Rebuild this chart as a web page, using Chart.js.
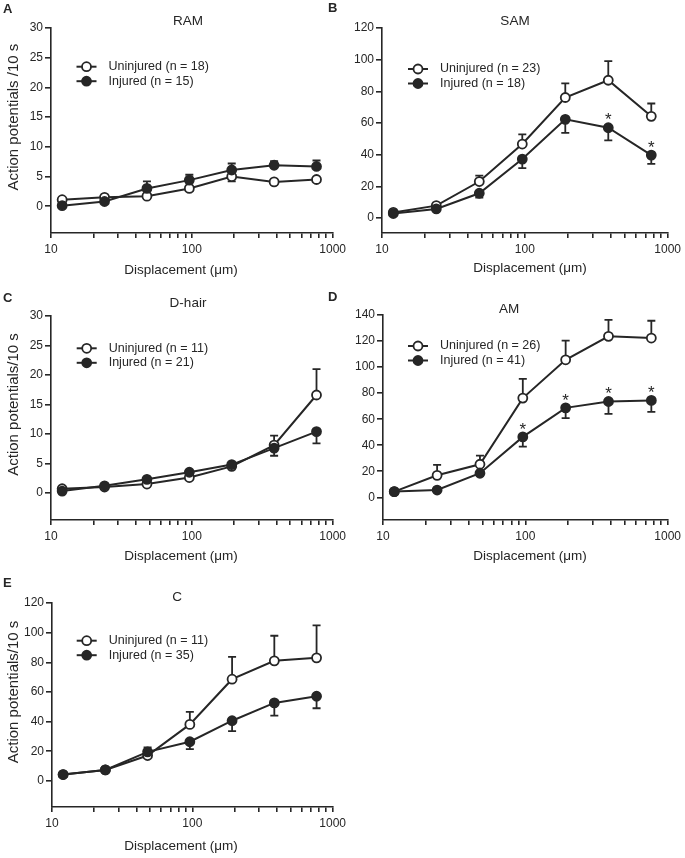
<!DOCTYPE html>
<html>
<head>
<meta charset="utf-8">
<title>Action potentials vs displacement</title>
<script src="https://cdn.jsdelivr.net/npm/chart.js@4.4.1/dist/chart.umd.min.js"></script>
<style>
  html, body { margin: 0; padding: 0; background: #fff; }
  body { position: relative; width: 685px; height: 858px; overflow: hidden; }
  .panel { position: absolute; }
</style>
</head>
<body>
<div class="panel" style="left:0px;top:0px"><canvas id="panelA" width="350" height="288"></canvas></div>
<div class="panel" style="left:322px;top:0px"><canvas id="panelB" width="363" height="288"></canvas></div>
<div class="panel" style="left:0px;top:288px"><canvas id="panelC" width="350" height="288"></canvas></div>
<div class="panel" style="left:322px;top:288px"><canvas id="panelD" width="363" height="288"></canvas></div>
<div class="panel" style="left:0px;top:575px"><canvas id="panelE" width="350" height="283"></canvas></div>
<script>
// Dados (média, erro padrão num só sentido)
const displacement = [12, 24, 48, 96, 192, 384, 768];
const xLabelsShown = [10, 100, 1000];
const groupNames = ['Uninjured', 'Injured'];

// RAM
const ramN = [18, 15];
const ramUninjured = [1.1, 1.5, 1.7, 3.0, 5.0, 4.1, 4.5];
const ramUninjuredErr = [0.2, 0.2, 0.3, 0.4, 0.8, 0.4, 0.4];
const ramInjured = [0.1, 0.8, 3.0, 4.4, 6.1, 6.9, 6.7];
const ramInjuredErr = [0.2, 0.3, 1.2, 0.9, 1.1, 0.7, 1.0];

// SAM
const samN = [23, 18];
const samUninjured = [3.5, 7.8, 23.0, 46.7, 76.1, 87.0, 64.2];
const samUninjuredErr = [0.5, 0.8, 3.8, 6.1, 8.9, 12.1, 8.1];
const samInjured = [2.8, 5.7, 15.6, 37.2, 62.3, 57.0, 39.7];
const samInjuredErr = [0.5, 0.8, 2.8, 5.7, 8.6, 8.0, 5.5];
const samStars = [5, 6];

// D-hair
const dhairN = [11, 21];
const dhairUninjured = [0.7, 1.0, 1.5, 2.6, 4.5, 8.1, 16.6];
const dhairUninjuredErr = [0.1, 0.2, 0.3, 0.4, 0.5, 1.6, 4.4];
const dhairInjured = [0.3, 1.2, 2.3, 3.5, 4.8, 7.6, 10.4];
const dhairInjuredErr = [0.1, 0.2, 0.3, 0.3, 0.4, 1.3, 2.0];

// AM
const amN = [26, 41];
const amUninjured = [4.4, 16.9, 25.4, 76.2, 105.6, 123.6, 122.3];
const amUninjuredErr = [1.0, 8.0, 6.6, 14.8, 14.7, 12.6, 13.3];
const amInjured = [4.4, 5.6, 18.5, 46.4, 68.7, 73.6, 74.4];
const amInjuredErr = [0.8, 1.0, 2.0, 7.4, 7.9, 9.5, 8.8];
const amStars = [3, 4, 5, 6];

// C
const cN = [11, 35];
const cUninjured = [4.3, 7.4, 17.1, 38.1, 68.6, 81.0, 83.0];
const cUninjuredErr = [0.5, 0.8, 5.5, 8.4, 15.1, 16.9, 21.9];
const cInjured = [4.3, 7.4, 19.6, 26.4, 40.6, 52.6, 57.1];
const cInjuredErr = [0.5, 0.8, 1.5, 5.0, 7.0, 8.6, 8.1];

const ink = '#262626';
const fontFamily = '"Liberation Sans", Arial, Helvetica, sans-serif';
Chart.defaults.font.family = fontFamily;
Chart.defaults.color = ink;

// Posições em coordenadas da página
const panels = [
  { id: 'panelA', letter: 'A', title: 'RAM', yTitle: 'Action potentials /10 s', n: ramN,
    left: 0, top: 0, plot: [51, 28, 334, 233], yMin: -4.5, yMax: 30, yStep: 5,
    uninjured: ramUninjured, uninjuredErr: ramUninjuredErr, uninjuredDir: -1,
    injured: ramInjured, injuredErr: ramInjuredErr, injuredDir: 1, stars: [],
    titleAt: [188, 21.7], letterAt: [3, 9], legendAt: [76.5, 66.7], xTitleAt: [181, 270], yTitleX: 13.5 },
  { id: 'panelB', letter: 'B', title: 'SAM', yTitle: '', n: samN,
    left: 322, top: 0, plot: [382, 28, 668, 233], yMin: -9.5, yMax: 120, yStep: 20,
    uninjured: samUninjured, uninjuredErr: samUninjuredErr, uninjuredDir: 1,
    injured: samInjured, injuredErr: samInjuredErr, injuredDir: -1, stars: samStars,
    titleAt: [515, 21.7], letterAt: [328, 8], legendAt: [408, 69], xTitleAt: [530, 268.5], yTitleX: 0 },
  { id: 'panelC', letter: 'C', title: 'D-hair', yTitle: 'Action potentials/10 s', n: dhairN,
    left: 0, top: 288, plot: [51, 316, 334, 520], yMin: -4.6, yMax: 30, yStep: 5,
    uninjured: dhairUninjured, uninjuredErr: dhairUninjuredErr, uninjuredDir: 1,
    injured: dhairInjured, injuredErr: dhairInjuredErr, injuredDir: -1, stars: [],
    titleAt: [188, 303.3], letterAt: [3, 298], legendAt: [76.7, 348.3], xTitleAt: [181, 556.7], yTitleX: 14 },
  { id: 'panelD', letter: 'D', title: 'AM', yTitle: '', n: amN,
    left: 322, top: 288, plot: [383, 315, 670, 520], yMin: -17.4, yMax: 140, yStep: 20,
    uninjured: amUninjured, uninjuredErr: amUninjuredErr, uninjuredDir: 1,
    injured: amInjured, injuredErr: amInjuredErr, injuredDir: -1, stars: amStars,
    titleAt: [509, 309.3], letterAt: [328, 297], legendAt: [408, 346], xTitleAt: [530, 556.7], yTitleX: 0 },
  { id: 'panelE', letter: 'E', title: 'C', yTitle: 'Action potentials/10 s', n: cN,
    left: 0, top: 575, plot: [52, 603, 334, 807], yMin: -17.6, yMax: 120, yStep: 20,
    uninjured: cUninjured, uninjuredErr: cUninjuredErr, uninjuredDir: 1,
    injured: cInjured, injuredErr: cInjuredErr, injuredDir: -1, stars: [],
    titleAt: [177, 597.7], letterAt: [3, 583], legendAt: [76.7, 640.7], xTitleAt: [181, 846.7], yTitleX: 14 }
];

function pontos(values) {
  return displacement.map((d, i) => ({ x: d, y: values[i] }));
}

function decoracao(p) {
  return {
    id: 'decoracao' + p.letter,
    // barras de erro por baixo das linhas
    beforeDatasetsDraw(chart) {
      const { ctx, scales: { x, y } } = chart;
      ctx.save();
      ctx.strokeStyle = ink;
      ctx.lineWidth = 1.8;
      chart.data.datasets.forEach(ds => {
        ds.err.forEach((e, i) => {
          if (!e) return;
          const px = x.getPixelForValue(displacement[i]);
          const p0 = y.getPixelForValue(ds.data[i].y);
          const p1 = y.getPixelForValue(ds.data[i].y + ds.errDir * e);
          ctx.beginPath();
          ctx.moveTo(px, p0);
          ctx.lineTo(px, p1);
          ctx.moveTo(px - 4, p1);
          ctx.lineTo(px + 4, p1);
          ctx.stroke();
        });
      });
      ctx.restore();
    },
    afterDraw(chart) {
      const { ctx, scales: { x, y } } = chart;
      const ox = p.left, oy = p.top;
      ctx.save();
      ctx.fillStyle = ink;
      ctx.textBaseline = 'middle';

      // letra do painel
      ctx.font = 'bold 13px ' + fontFamily;
      ctx.textAlign = 'left';
      ctx.fillText(p.letter, p.letterAt[0] - ox, p.letterAt[1] - oy);

      // título do painel
      ctx.font = '13.5px ' + fontFamily;
      ctx.textAlign = 'center';
      ctx.fillText(p.title, p.titleAt[0] - ox, p.titleAt[1] - oy);

      // título do eixo x
      ctx.fillText('Displacement (\u03bcm)', p.xTitleAt[0] - ox, p.xTitleAt[1] - oy);

      // título do eixo y, centrado entre 0 e o máximo
      if (p.yTitle) {
        const cy = (y.getPixelForValue(0) + y.getPixelForValue(p.yMax)) / 2;
        ctx.save();
        ctx.translate(p.yTitleX - ox, cy);
        ctx.rotate(-Math.PI / 2);
        ctx.font = '15px ' + fontFamily;
        ctx.fillText(p.yTitle, 0, 0);
        ctx.restore();
      }

      // asteriscos de significância
      ctx.font = '17px ' + fontFamily;
      p.stars.forEach(i => {
        const px = x.getPixelForValue(displacement[i]);
        const py = y.getPixelForValue(p.injured[i]);
        ctx.fillText('*', px, py - 7);
      });

      // legenda
      ctx.font = '12.5px ' + fontFamily;
      ctx.textAlign = 'left';
      groupNames.forEach((name, k) => {
        const lx = p.legendAt[0] - ox;
        const ly = p.legendAt[1] + k * 14.5 - oy;
        ctx.strokeStyle = ink;
        ctx.lineWidth = 2;
        ctx.beginPath();
        ctx.moveTo(lx, ly);
        ctx.lineTo(lx + 20, ly);
        ctx.stroke();
        ctx.beginPath();
        ctx.arc(lx + 10, ly, 4.5, 0, Math.PI * 2);
        ctx.fillStyle = k === 0 ? '#fff' : ink;
        ctx.fill();
        ctx.lineWidth = 1.8;
        ctx.stroke();
        ctx.fillStyle = ink;
        ctx.fillText(name + ' (n = ' + p.n[k] + ')', lx + 32, ly);
      });
      ctx.restore();
    }
  };
}

panels.forEach(p => {
  const canvas = document.getElementById(p.id);
  const W = canvas.width, H = canvas.height;
  const plotLeft = p.plot[0] - p.left, plotTop = p.plot[1] - p.top;
  const plotRight = p.plot[2] - p.left, plotBottom = p.plot[3] - p.top;

  new Chart(canvas.getContext('2d'), {
    type: 'line',
    data: {
      datasets: [
        {
          label: groupNames[0],
          data: pontos(p.uninjured),
          err: p.uninjuredErr,
          errDir: p.uninjuredDir,
          order: 1,
          borderColor: ink,
          borderWidth: 2,
          pointRadius: 4.5,
          pointBorderWidth: 1.8,
          pointBackgroundColor: '#fff',
          pointBorderColor: ink,
          tension: 0
        },
        {
          label: groupNames[1],
          data: pontos(p.injured),
          err: p.injuredErr,
          errDir: p.injuredDir,
          order: 0,
          borderColor: ink,
          borderWidth: 2,
          pointRadius: 4.5,
          pointBorderWidth: 1.8,
          pointBackgroundColor: ink,
          pointBorderColor: ink,
          tension: 0
        }
      ]
    },
    options: {
      responsive: false,
      animation: false,
      events: [],
      layout: { padding: { left: 0, top: plotTop, right: W - plotRight, bottom: 0 } },
      plugins: { legend: { display: false }, tooltip: { enabled: false }, title: { display: false } },
      scales: {
        x: {
          type: 'logarithmic',
          min: 10,
          max: 1000,
          afterFit: s => { s.height = H - plotBottom; },
          afterBuildTicks: s => {
            // só 1..9 x 10^n
            s.ticks = s.ticks.filter(t => {
              const m = t.value / Math.pow(10, Math.floor(Math.log10(t.value) + 1e-9));
              return Math.abs(m - Math.round(m)) < 1e-6;
            });
          },
          border: { display: true, color: ink, width: 1.6 },
          grid: { drawOnChartArea: false, drawTicks: true, tickLength: 5, color: ink, lineWidth: 1.6 },
          ticks: {
            autoSkip: false,
            maxRotation: 0,
            padding: 4,
            color: ink,
            font: { size: 12 },
            callback: v => xLabelsShown.includes(v) ? String(v) : ''
          }
        },
        y: {
          type: 'linear',
          min: p.yMin,
          max: p.yMax,
          afterFit: s => { s.width = plotLeft; },
          afterBuildTicks: s => { s.ticks = s.ticks.filter(t => t.value >= 0); },
          border: { display: true, color: ink, width: 1.6 },
          grid: { drawOnChartArea: false, drawTicks: true, tickLength: 6, color: ink, lineWidth: 1.6 },
          ticks: { stepSize: p.yStep, padding: 2, color: ink, font: { size: 12 } }
        }
      }
    },
    plugins: [decoracao(p)]
  });
});
</script>
</body>
</html>
